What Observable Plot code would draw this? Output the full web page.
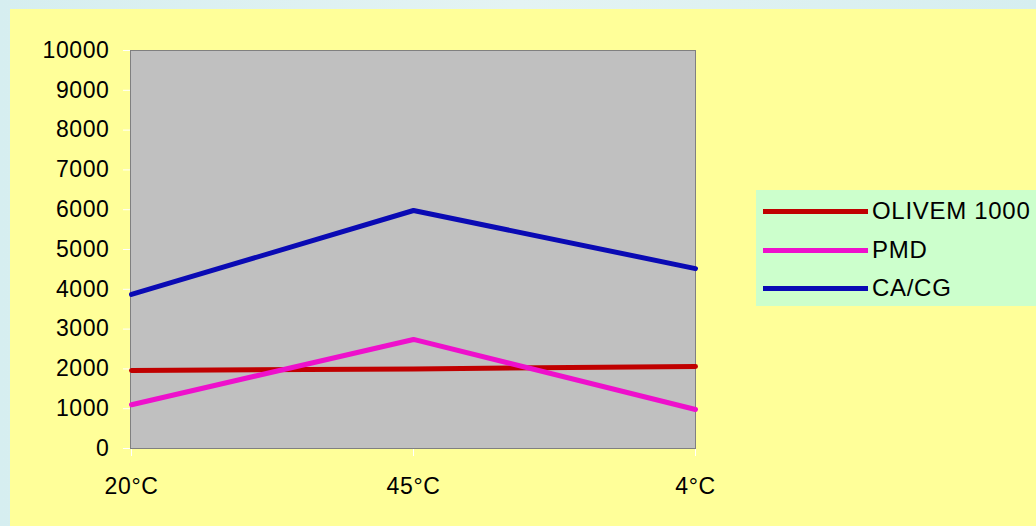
<!DOCTYPE html>
<html>
<head>
<meta charset="utf-8">
<script src="https://cdn.jsdelivr.net/npm/d3@7"></script>
<script src="https://cdn.jsdelivr.net/npm/@observablehq/plot@0.6"></script>
<style>
  html, body { margin: 0; padding: 0; }
  body { width: 1036px; height: 526px; position: relative; overflow: hidden;
         background: linear-gradient(90deg, #d6eef0, #e4f3f3 50%, #d6eef0); font-family: "Liberation Sans", Arial, sans-serif; }
  #panel { position: absolute; left: 10px; top: 9px; width: 1026px; height: 517px; background: #ffff99; }
  #chart { position: absolute; left: 0; top: 0; }
  #chart svg text { letter-spacing: 0.6px; }
  #legend { position: absolute; left: 756px; top: 190px; width: 280px; height: 116px; background: #ccffcc; }
  .row { position: absolute; left: 7px; height: 30px; display: flex; align-items: center; }
  .sw { width: 105px; height: 5px; margin-right: 4px; }
  .lab { font-size: 24px; color: #000; line-height: 1; letter-spacing: 0.7px; }
</style>
</head>
<body>
<div id="panel"></div>
<div id="chart"></div>
<div id="legend"></div>
<script>
const categories = ["20°C", "45°C", "4°C"];
const seriesNames = ["OLIVEM 1000", "PMD", "CA/CG"];
const olivem = [1960, 2000, 2060];
const pmd = [1100, 2740, 980];
const cacg = [3870, 5980, 4520];
const colors = ["#c00000", "#ee10cc", "#0a0ab4"];
const yTicks = [0, 1000, 2000, 3000, 4000, 5000, 6000, 7000, 8000, 9000, 10000];

const seriesValues = [olivem, pmd, cacg];
const rows = [];
seriesNames.forEach((s, i) => categories.forEach((c, j) => rows.push({series: s, cat: c, value: seriesValues[i][j]})));

const chart = Plot.plot({
  width: 1036,
  height: 526,
  marginLeft: 130,
  marginRight: 341,
  marginTop: 50,
  marginBottom: 78,
  style: {background: "transparent", fontFamily: "'Liberation Sans', Arial, sans-serif", fontSize: "23px", color: "#000"},
  x: {type: "point", domain: categories, padding: 0},
  y: {domain: [0, 10000]},
  color: {domain: seriesNames, range: colors},
  marks: [
    Plot.frame({fill: "#c0c0c0"}),
    Plot.axisY({ticks: yTicks, tickSize: 7, tickPadding: 14, stroke: "#ffffff", tickFormat: d => String(d), label: null, fontSize: 23}),
    Plot.axisX({tickSize: 8, tickPadding: 21, stroke: "#ffffff", label: null, fontSize: 23}),
    Plot.frame({stroke: "#808080"}),
    Plot.line(rows, {x: "cat", y: "value", z: "series", stroke: "series", strokeWidth: 5})
  ]
});
document.getElementById("chart").appendChild(chart);

const legend = document.getElementById("legend");
const rowTops = [6, 45, 83];
seriesNames.forEach((s, i) => {
  const r = document.createElement("div");
  r.className = "row";
  r.style.top = rowTops[i] + "px";
  r.innerHTML = `<div class="sw" style="background:${colors[i]}"></div><span class="lab">${s}</span>`;
  legend.appendChild(r);
});
</script>
</body>
</html>
